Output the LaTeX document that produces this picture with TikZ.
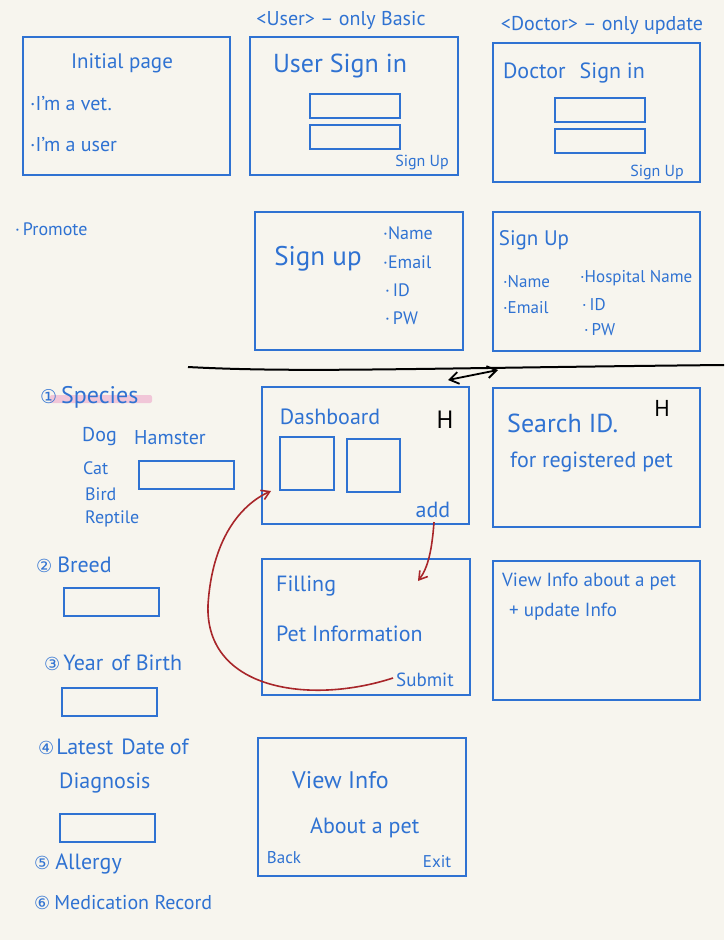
\documentclass[tikz,border=0pt]{standalone}
\usepackage{fontspec}
\setmainfont{PT Sans}
\newfontfamily\symf{DejaVu Sans}
\usetikzlibrary{arrows.meta}
\definecolor{paper}{HTML}{F7F5EE}
\definecolor{ink}{HTML}{2F72D2}
\definecolor{redink}{HTML}{A8262A}
\definecolor{hilite}{HTML}{F1C6D8}
\tikzset{
  box/.style={draw=ink, line width=2.4pt, inner sep=0pt, fill=none},
  fld/.style={draw=ink, line width=2pt, inner sep=0pt},
  hw/.style={text=ink, inner sep=0pt, font=\fontsize{16}{18}\selectfont},
  fs/.style={font=\fontsize{#1}{#1}\selectfont},
  redarr/.style={draw=redink, line width=1.6pt, -{Straight Barb[length=8pt,width=10pt]}},
}
\begin{document}
\begin{tikzpicture}[x=1pt,y=-1pt]
\fill[paper] (0,0) rectangle (724,940);
\useasboundingbox (0,0) rectangle (724,940);

% headers
\node[hw, fs=20] (hu) at (341,20) {<User> – only Basic};
\node[hw, fs=20] (hd) at (602,25) {<Doctor> – only update};

% initial page
\node[box, minimum width=207pt, minimum height=138pt] (init) at (126.5,106) {};
\node[hw, fs=21] (initt) at (122,63) {Initial page};
\node[hw, fs=20, anchor=west] (vet) at (30,104) {·I'm a vet.};
\node[hw, fs=20, anchor=west] (usr) at (30,145) {·I'm a user};

% user sign in
\node[box, minimum width=208pt, minimum height=138pt] (usign) at (354,106) {};
\node[hw, fs=26] (usignt) at (340,66) {User Sign in};
\node[fld, minimum width=90pt, minimum height=24pt] (uf1) at (355,106) {};
\node[fld, minimum width=90pt, minimum height=24pt] (uf2) at (355,137) {};
\node[hw, fs=16] (usu) at (422,162) {Sign Up};

% doctor sign in
\node[box, minimum width=207pt, minimum height=139pt] (dsign) at (596.5,112.5) {};
\node[hw, fs=22] (dsignt) at (574,73) {Doctor\hspace{14pt}Sign in};
\node[fld, minimum width=90pt, minimum height=24pt] (df1) at (600,110) {};
\node[fld, minimum width=90pt, minimum height=24pt] (df2) at (600,141) {};
\node[hw, fs=16] (dsu) at (657,172) {Sign Up};

% promote
\node[hw, fs=18, anchor=west] (prom) at (15,229) {·\,Promote};

% user sign up
\node[box, minimum width=208pt, minimum height=138pt] (usignup) at (359,281) {};
\node[hw, fs=27] (usut) at (318,259) {Sign up};
\node[hw, fs=18, anchor=west] (un) at (383,233) {·Name};
\node[hw, fs=18, anchor=west] (ue) at (383,262) {·Email};
\node[hw, fs=18, anchor=west] (ui) at (385,290) {·\,ID};
\node[hw, fs=18, anchor=west] (up) at (385,318) {·\,PW};

% doctor sign up
\node[box, minimum width=207pt, minimum height=139pt] (dsignup) at (596.5,281.5) {};
\node[hw, fs=21] (dsut) at (534,240) {Sign Up};
\node[hw, fs=17, anchor=west] (dn) at (503,282) {·Name};
\node[hw, fs=17, anchor=west] (de) at (503,308) {·Email};
\node[hw, fs=17, anchor=west] (dh) at (580,278) {·Hospital Name};
\node[hw, fs=17, anchor=west] (di) at (582,305) {·\,ID};
\node[hw, fs=17, anchor=west] (dp) at (584,330) {·\,PW};

% divider line and double arrow
\coordinate (la) at (188,367);
\coordinate (lb) at (724,365);
\draw[black, line width=2pt] (la) .. controls (300,373) and (420,368) .. (lb);
\coordinate (aa) at (448,380);
\coordinate (ab) at (498,370);
\draw[black, line width=1.8pt, {Straight Barb[length=9pt,width=12pt]}-{Straight Barb[length=9pt,width=12pt]}] (aa) -- (ab);

% left list
\fill[hilite, rounded corners=2pt] (50,395) rectangle (152,403);
\node[hw, fs=24, anchor=west] (sp) at (40,397) {{\symf\fontsize{19}{19}\selectfont ①}\hspace{4pt}Species};
\node[hw, fs=20, anchor=west] (dog) at (82,437) {Dog};
\node[hw, fs=20, anchor=west] (ham) at (134,438) {Hamster};
\node[hw, fs=18, anchor=west] (cat) at (83,468) {Cat};
\node[hw, fs=18, anchor=west] (bird) at (85,494) {Bird};
\node[hw, fs=18, anchor=west] (rep) at (85,519) {Reptile};
\node[fld, minimum width=95pt, minimum height=28pt] (spf) at (186.5,475) {};

\node[hw, fs=22, anchor=west] (br) at (36,565) {{\symf\fontsize{18}{18}\selectfont ②}\hspace{5pt}Breed};
\node[fld, minimum width=95pt, minimum height=28pt] (brf) at (111.5,602) {};

\node[hw, fs=22, anchor=west] (yb) at (44,663) {{\symf\fontsize{18}{18}\selectfont ③}\hspace{3pt}Year\hspace{8pt}of\hspace{6pt}Birth};
\node[fld, minimum width=95pt, minimum height=28pt] (ybf) at (109.5,702) {};

\node[hw, fs=22, anchor=west] (ld) at (38,747) {{\symf\fontsize{18}{18}\selectfont ④}\hspace{2pt}Latest\hspace{8pt}Date\hspace{5pt}of};
\node[hw, fs=22, anchor=west] (dg) at (59,783) {Diagnosis};
\node[fld, minimum width=95pt, minimum height=28pt] (dgf) at (107.5,828) {};

\node[hw, fs=22, anchor=west] (al) at (34,864) {{\symf\fontsize{18}{18}\selectfont ⑤}\hspace{5pt}Allergy};
\node[hw, fs=20, anchor=west] (mr) at (34,903) {{\symf\fontsize{18}{18}\selectfont ⑥}\hspace{4pt}Medication Record};

% dashboard
\node[box, minimum width=207pt, minimum height=137pt] (dash) at (365.5,455.5) {};
\node[hw, fs=22] (dasht) at (330,417) {Dashboard};
\node[fld, minimum width=54pt, minimum height=53pt] (sq1) at (307,463.5) {};
\node[fld, minimum width=53pt, minimum height=53pt] (sq2) at (373.5,465.5) {};
\node[inner sep=0pt, fs=25] (h1) at (445,420) {H};
\node[hw, fs=22] (add) at (433,510) {add};

% search
\node[box, minimum width=207pt, minimum height=139pt] (search) at (596.5,457.5) {};
\node[hw, fs=26, anchor=west] (srt) at (507,423) {Search ID.};
\node[hw, fs=22, anchor=west] (srt2) at (510,462) {for registered pet};
\node[inner sep=0pt, fs=23] (h2) at (662,408) {H};

% filling
\node[box, minimum width=208pt, minimum height=136pt] (fill) at (366,627) {};
\node[hw, fs=22, anchor=west] (fillt) at (276,586) {Filling};
\node[hw, fs=22, anchor=west] (fillt2) at (276,634) {Pet Information};
\node[hw, fs=19] (sub) at (425,680) {Submit};

% view + update
\node[box, minimum width=207pt, minimum height=139pt] (viewup) at (596.5,630.5) {};
\node[hw, fs=19, anchor=west] (vut) at (502,582) {View Info about a pet};
\node[hw, fs=19, anchor=west] (vut2) at (509,612) {+ update Info};

% view info
\node[box, minimum width=208pt, minimum height=138pt] (view) at (362,807) {};
\node[hw, fs=24, anchor=west] (vt) at (292,780) {View Info};
\node[hw, fs=22, anchor=west] (vt2) at (310,828) {About a pet};
\node[hw, fs=17] (back) at (284,858) {Back};
\node[hw, fs=17] (exit) at (437,862) {Exit};

% red arrows
\coordinate (fillin) at (418,581);
\draw[redarr] (add.south) ++(1,4) .. controls (432,550) and (428,568) .. (fillin);
\coordinate (dashin) at (271,491);
\draw[redarr] (sub.west) ++(-3,-2) .. controls (310,705) and (205,690) .. (208,605) .. controls (212,540) and (240,505) .. (dashin);
\end{tikzpicture}
\end{document}
